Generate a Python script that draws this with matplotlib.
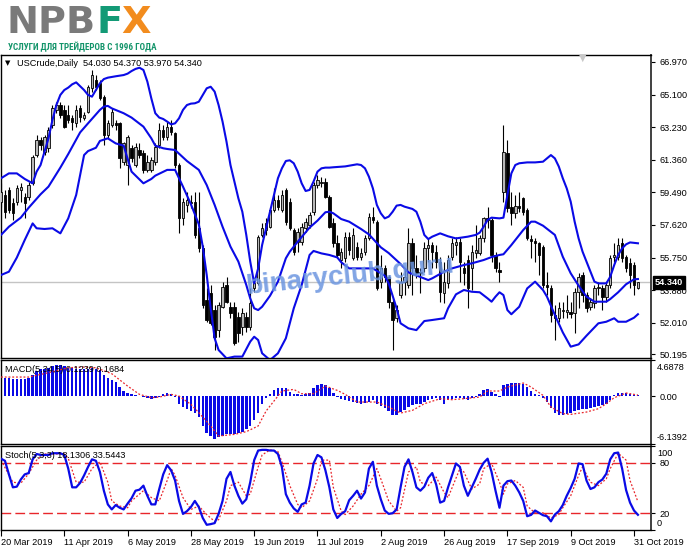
import numpy as np
import matplotlib
matplotlib.use("Agg")
import matplotlib.pyplot as plt
from matplotlib import font_manager as fm

plt.rcParams['font.family'] = ['Liberation Sans', 'DejaVu Sans']

# ---------------- data ----------------
bar_index = list(range(-1, 161))

opens = [58.96, 59.34, 59.63, 58.86, 58.96, 59.63, 59.24, 59.24, 60.01, 61.63,
         62.50, 61.83, 62.02, 63.35, 64.22, 64.50, 64.22, 63.93, 63.74, 63.45,
         64.31, 63.74, 64.12, 65.46, 65.94, 65.75, 64.98, 62.78, 63.35, 63.45,
         63.45, 61.25, 61.06, 62.02, 61.06, 61.92, 61.73, 60.78, 60.78, 61.25,
         62.21, 63.07, 62.69, 63.26, 62.88, 61.06, 58.00, 58.77, 58.96, 58.96,
         57.43, 56.28, 53.31, 53.70, 52.74, 51.59, 52.93, 54.18, 52.93, 52.93,
         52.36, 51.79, 52.36, 51.79, 53.98, 54.27, 57.05, 57.33, 57.52, 58.48,
         59.05, 58.48, 59.63, 58.96, 57.33, 56.66, 56.66, 57.43, 57.62, 58.38,
         59.91, 60.01, 60.11, 59.24, 57.71, 56.57, 55.61, 55.71, 56.95, 55.71,
         56.38, 55.80, 56.09, 56.85, 58.10, 57.81, 54.37, 55.13, 54.65, 53.22,
         52.27, 53.60, 54.37, 54.18, 56.57, 55.13, 54.85, 55.13, 56.28, 56.47,
         56.09, 55.52, 53.70, 54.27, 55.80, 56.47, 56.66, 55.13, 55.61, 55.13,
         55.99, 55.99, 56.85, 58.00, 57.91, 55.90, 55.04, 59.53, 61.73, 58.67,
         58.29, 58.73, 59.15, 58.48, 56.82, 56.70, 56.57, 56.38, 54.18, 53.98,
         52.46, 52.27, 52.69, 52.65, 52.65, 52.55, 53.79, 54.75, 53.60, 52.93,
         53.12, 53.98, 53.98, 53.51, 54.18, 55.80, 55.80, 56.57, 55.80, 55.42,
         55.32, 54.03]
highs = [60.01, 59.63, 59.82, 59.15, 59.91, 60.01, 59.44, 60.11, 61.63, 62.78,
         62.69, 62.78, 63.26, 64.50, 64.69, 64.69, 64.50, 64.50, 63.93, 64.50,
         64.50, 64.12, 65.65, 66.51, 66.22, 65.94, 65.08, 63.64, 64.31, 63.64,
         63.55, 62.40, 62.78, 62.21, 62.30, 62.30, 61.92, 61.63, 61.54, 62.30,
         63.45, 63.35, 63.55, 63.64, 62.97, 61.16, 59.15, 59.53, 59.34, 59.53,
         59.53, 56.47, 53.98, 54.18, 53.03, 53.22, 54.37, 54.65, 53.22, 53.22,
         52.65, 52.84, 52.65, 53.98, 54.56, 57.05, 57.71, 58.00, 58.58, 59.72,
         59.34, 59.63, 59.72, 59.15, 57.43, 57.43, 57.71, 58.00, 58.38, 60.11,
         60.49, 60.39, 60.30, 59.34, 58.00, 57.05, 56.28, 57.24, 57.24, 57.43,
         56.66, 56.28, 57.05, 58.29, 58.67, 57.91, 55.90, 55.32, 54.75, 53.41,
         53.03, 54.94, 55.13, 57.43, 56.85, 55.90, 55.13, 56.66, 56.85, 56.66,
         56.47, 55.80, 55.52, 55.90, 56.85, 56.95, 56.85, 55.52, 55.90, 56.47,
         57.62, 57.05, 58.10, 58.67, 58.00, 56.09, 55.52, 63.35, 62.50, 59.53,
         59.34, 59.53, 59.24, 58.58, 57.05, 56.85, 56.66, 56.47, 54.94, 54.18,
         53.03, 53.22, 53.22, 53.60, 53.22, 53.98, 54.85, 54.94, 53.79, 53.41,
         54.18, 54.37, 54.18, 54.37, 55.90, 56.57, 56.85, 56.85, 55.90, 55.71,
         55.52, 54.37]
lows = [58.67, 58.00, 58.29, 57.91, 58.77, 58.96, 58.00, 59.05, 59.91, 61.54,
        61.92, 61.63, 61.83, 63.16, 64.03, 63.74, 63.16, 63.45, 63.07, 63.26,
        63.55, 63.64, 64.03, 65.27, 65.36, 64.79, 62.21, 62.59, 63.26, 63.07,
        60.87, 61.06, 59.91, 61.25, 60.97, 61.44, 60.58, 60.68, 60.68, 61.06,
        62.02, 62.50, 62.50, 62.78, 60.87, 57.14, 57.62, 58.38, 58.58, 56.85,
        56.09, 52.84, 52.07, 51.88, 50.45, 51.21, 52.84, 53.12, 52.27, 50.74,
        50.93, 51.31, 51.50, 51.59, 53.79, 54.18, 56.95, 57.05, 57.43, 58.38,
        58.48, 58.38, 57.62, 57.33, 55.90, 56.09, 56.47, 57.24, 57.43, 58.19,
        59.72, 59.82, 59.15, 57.43, 56.38, 55.71, 55.13, 55.52, 55.90, 55.61,
        55.61, 55.61, 55.90, 56.76, 57.71, 53.89, 53.98, 54.37, 52.84, 50.45,
        52.07, 53.41, 53.60, 53.98, 53.60, 54.56, 53.70, 54.94, 55.52, 55.13,
        55.13, 53.22, 53.12, 53.98, 55.61, 55.90, 54.37, 54.18, 52.84, 53.89,
        55.71, 55.90, 56.66, 57.43, 55.52, 54.94, 54.37, 58.96, 58.38, 57.62,
        58.00, 58.38, 58.19, 56.76, 55.71, 55.52, 54.75, 53.98, 53.60, 52.07,
        51.02, 52.07, 52.27, 52.27, 52.27, 51.40, 52.84, 53.22, 52.65, 52.74,
        52.84, 53.60, 52.74, 53.22, 53.98, 55.52, 55.61, 55.52, 54.94, 53.98,
        53.60, 53.97]
closes = [59.53, 58.38, 58.48, 58.29, 59.72, 59.82, 58.86, 59.91, 61.54, 62.50,
          62.21, 62.69, 63.07, 64.31, 64.50, 63.93, 63.26, 63.64, 63.55, 64.22,
          63.83, 63.93, 65.55, 66.22, 65.55, 64.88, 62.78, 63.45, 64.12, 63.35,
          61.44, 62.30, 62.69, 61.44, 62.11, 61.63, 60.78, 61.25, 61.35, 62.11,
          63.07, 62.69, 63.26, 62.97, 61.06, 58.00, 58.96, 59.05, 58.86, 57.05,
          56.28, 53.03, 52.17, 51.98, 51.21, 53.03, 54.08, 53.22, 52.55, 50.83,
          51.40, 52.55, 51.79, 53.12, 54.27, 56.95, 57.43, 57.71, 58.48, 59.05,
          58.67, 59.34, 57.81, 57.43, 56.09, 57.24, 57.52, 57.81, 58.19, 59.91,
          60.20, 60.11, 59.24, 57.52, 56.57, 55.90, 56.09, 56.95, 56.19, 57.05,
          55.80, 55.99, 56.85, 58.10, 57.91, 53.98, 55.13, 54.65, 53.22, 52.17,
          52.74, 54.37, 54.65, 56.57, 55.13, 54.85, 54.94, 56.28, 56.47, 56.09,
          55.52, 53.79, 54.37, 55.61, 56.57, 56.66, 55.52, 54.85, 53.98, 56.09,
          56.19, 56.85, 58.00, 57.91, 55.90, 55.13, 54.94, 61.83, 58.58, 58.29,
          58.73, 58.61, 58.38, 56.85, 56.70, 56.57, 55.90, 54.18, 54.08, 52.46,
          52.27, 52.84, 52.74, 52.74, 52.50, 53.79, 54.65, 53.60, 52.88, 53.22,
          53.98, 54.08, 53.51, 54.18, 55.71, 55.90, 56.47, 55.71, 55.13, 54.75,
          54.18, 54.34]

# Bollinger Bands (20, 2)
bb_upper_bars = [-1, 1, 3, 5, 7, 8, 9, 10, 11, 12, 13, 14, 15, 16, 17, 18, 20, 21, 22, 23,
                 24, 25, 26, 28, 30, 31, 32, 33, 34, 35, 36, 37, 38, 39, 40, 41, 42, 43, 44, 45,
                 46, 47, 48, 49, 50, 51, 52, 53, 54, 55, 56, 57, 58, 59, 60, 61, 62, 63, 64, 65,
                 66, 67, 68, 69, 70, 71, 72, 73, 74, 75, 76, 77, 78, 79, 80, 81, 82, 83, 86, 89,
                 90, 91, 92, 93, 94, 95, 96, 97, 98, 99, 100, 101, 103, 104, 105, 106, 107, 108, 110, 112,
                 114, 117, 119, 120, 121, 122, 123, 125, 126, 127, 128, 129, 130, 132, 134, 136, 137, 138, 139, 140,
                 141, 142, 143, 144, 145, 146, 147, 148, 149, 150, 152, 153, 154, 155, 156, 157, 158, 160]
bb_upper = [60.30, 60.58, 60.58, 60.26, 60.01, 60.68, 61.06, 61.83, 62.59, 63.64,
            64.50, 65.08, 65.36, 65.50, 65.69, 65.80, 65.36, 65.08, 64.98, 65.36,
            65.75, 65.99, 66.07, 66.15, 66.22, 66.30, 66.45, 66.57, 66.64, 66.51,
            65.84, 64.88, 64.03, 63.78, 63.70, 63.55, 63.39, 63.45, 63.74, 64.22,
            64.50, 64.58, 64.60, 64.69, 65.08, 65.46, 65.55, 65.27, 64.50, 63.55,
            62.40, 61.06, 60.11, 59.15, 58.38, 57.05, 55.52, 54.27, 55.13, 56.47,
            57.43, 58.38, 59.34, 60.30, 60.87, 61.29, 61.33, 61.16, 60.68, 60.01,
            59.57, 59.63, 60.11, 60.68, 60.87, 60.91, 60.91, 60.93, 60.98, 61.10,
            61.06, 60.87, 60.39, 59.72, 58.77, 58.29, 58.00, 58.10, 58.38, 58.73,
            58.77, 58.67, 58.54, 58.38, 57.81, 57.05, 56.81, 56.95, 57.14, 56.97,
            56.85, 56.95, 57.05, 57.18, 57.52, 57.91, 58.04, 58.00, 58.04, 59.34,
            60.58, 61.06, 61.16, 61.21, 61.21, 61.25, 61.44, 61.63, 61.44, 60.97,
            60.30, 59.72, 58.96, 57.81, 56.85, 56.09, 55.52, 54.94, 54.37, 54.27,
            54.27, 54.65, 55.32, 55.90, 56.28, 56.51, 56.62, 56.57]
bb_mid_bars = [-1, 1, 4, 6, 9, 11, 14, 16, 19, 21, 24, 25, 26, 27, 30, 32, 35, 37, 38, 40,
               41, 43, 46, 49, 51, 53, 55, 57, 59, 61, 62, 63, 64, 65, 67, 69, 71, 72, 74, 77,
               79, 81, 82, 83, 85, 87, 90, 92, 95, 97, 100, 102, 105, 107, 108, 111, 113, 116, 118, 121,
               123, 125, 126, 128, 131, 133, 134, 136, 139, 141, 143, 145, 147, 149, 152, 153, 155, 157, 159, 160]
bb_mid = [57.05, 57.52, 58.04, 58.61, 59.38, 59.82, 60.91, 61.69, 62.93, 63.45,
          64.22, 64.41, 64.45, 64.31, 64.03, 63.78, 63.26, 62.59, 62.17, 62.02,
          61.98, 61.92, 61.29, 60.78, 59.91, 58.77, 57.52, 56.38, 55.52, 54.18,
          53.41, 52.84, 52.74, 52.93, 53.56, 54.37, 55.71, 56.09, 56.66, 57.47,
          57.87, 58.35, 58.38, 58.29, 57.96, 57.81, 57.39, 57.08, 56.34, 56.01,
          55.38, 54.90, 54.64, 54.46, 54.56, 54.94, 55.13, 55.32, 55.42, 55.61,
          55.78, 55.90, 55.94, 56.47, 57.33, 57.81, 57.81, 57.58, 57.05, 55.80,
          54.85, 54.14, 53.51, 53.22, 53.22, 53.37, 53.76, 54.22, 54.50, 54.52]
bb_low_bars = [-1, 1, 3, 5, 7, 8, 10, 12, 14, 16, 18, 20, 21, 23, 24, 26, 28, 30, 32, 35,
               37, 38, 41, 43, 45, 47, 49, 50, 51, 52, 53, 54, 56, 58, 60, 62, 63, 64, 65, 67,
               69, 71, 73, 75, 77, 78, 80, 82, 84, 85, 87, 91, 93, 96, 97, 99, 100, 102, 104, 106,
               108, 111, 112, 114, 116, 118, 120, 122, 123, 124, 125, 126, 127, 128, 130, 132, 134, 136, 137, 139,
               141, 143, 145, 147, 150, 152, 154, 155, 157, 159, 160]
bb_low = [54.75, 54.94, 55.75, 56.76, 57.71, 57.43, 57.39, 57.43, 57.14, 58.00,
          59.34, 61.63, 61.86, 62.05, 62.44, 62.59, 62.30, 62.17, 60.68, 60.01,
          60.26, 60.45, 60.78, 60.78, 59.82, 58.81, 57.66, 56.38, 54.75, 52.84,
          51.12, 50.45, 49.97, 50.07, 50.07, 50.93, 51.21, 51.02, 50.26, 49.87,
          50.26, 51.12, 52.84, 54.18, 55.90, 56.13, 55.99, 55.90, 55.76, 55.48,
          55.13, 55.13, 55.13, 54.71, 54.27, 52.84, 51.98, 51.69, 51.59, 52.11,
          52.17, 52.27, 52.84, 53.64, 53.89, 53.79, 53.76, 53.41, 53.22, 53.51,
          53.76, 53.60, 52.74, 52.50, 52.93, 53.98, 54.37, 53.89, 53.51, 52.46,
          51.46, 50.64, 50.77, 51.27, 51.98, 52.07, 52.27, 52.07, 52.07, 52.30,
          52.50]

# MACD (5,34,5)
macd_hist = [2.62, 2.41, 2.32, 2.19, 2.19, 2.19, 2.19, 2.32, 2.75, 3.26,
             3.48, 3.48, 3.69, 3.87, 4.00, 4.04, 3.87, 3.69, 3.61, 3.52,
             3.48, 3.48, 3.52, 3.61, 3.52, 3.35, 2.75, 2.41, 2.15, 1.80,
             1.20, 0.69, 0.47, 0.26, 0.17, 0.04, -0.09, -0.26, -0.39, -0.26,
             -0.04, 0.26, 0.47, 0.34, -0.09, -1.03, -1.37, -1.68, -1.89, -2.10,
             -2.66, -3.82, -4.68, -5.11, -5.54, -5.24, -5.11, -4.90, -4.90, -4.90,
             -4.68, -4.55, -4.25, -3.82, -3.09, -2.10, -0.95, -0.17, 0.34, 0.77,
             1.12, 1.12, 1.12, 0.60, 0.34, 0.26, 0.17, 0.26, 0.47, 1.12,
             1.46, 1.63, 1.46, 1.03, 0.47, -0.04, -0.39, -0.52, -0.64, -0.73,
             -0.86, -0.95, -0.86, -0.73, -0.52, -0.95, -1.29, -1.46, -1.89, -2.36,
             -2.45, -2.02, -1.72, -1.37, -1.16, -1.03, -0.95, -0.73, -0.52, -0.30,
             -0.17, -0.43, -0.95, -0.52, -0.30, -0.17, -0.17, -0.30, -0.43, -0.21,
             -0.09, 0.34, 0.86, 0.99, 0.56, 0.26, -0.09, 1.42, 1.63, 1.72,
             1.72, 1.72, 1.63, 1.20, 0.69, 0.34, 0.13, -0.17, -0.73, -1.46,
             -2.15, -2.36, -2.36, -2.32, -2.15, -1.89, -1.72, -1.59, -1.59, -1.50,
             -1.37, -1.29, -1.16, -0.95, -0.43, 0.13, 0.43, 0.43, 0.43, 0.34,
             0.17, 0.12]
macd_sig_bars = [-1, 6, 11, 16, 20, 23, 27, 31, 34, 37, 39, 42, 44, 47, 49, 52, 54, 58, 61, 64,
                 66, 68, 70, 73, 75, 78, 81, 84, 86, 89, 94, 97, 100, 103, 106, 110, 113, 116, 120, 122,
                 125, 127, 131, 133, 136, 138, 141, 143, 147, 150, 152, 154, 157, 160]
macd_signal = [2.49, 2.49, 3.05, 3.69, 3.78, 3.69, 2.92, 1.33, 0.26, -0.17,
               -0.09, 0.26, 0.04, -1.03, -2.10, -3.82, -5.11, -4.90, -4.55, -3.82,
               -1.89, -0.60, 0.69, 0.90, 0.34, 0.34, 1.33, 0.77, 0.26, -0.73,
               -0.73, -1.37, -2.15, -1.80, -0.95, -0.30, -0.43, -0.30, -0.09, 0.69,
               0.69, 1.20, 1.72, 1.20, 0.13, -1.37, -2.23, -2.32, -2.02, -1.59,
               -0.95, -0.17, 0.43, 0.17]

# Stochastic (5,3,3)
stoch_k = [84.9, 82.4, 66.2, 50.8, 51.6, 60.1, 66.2, 67.8, 84.1, 90.5,
           89.3, 89.3, 89.3, 91.4, 91.4, 91.4, 89.3, 73.1, 50.8, 50.8,
           56.1, 65.0, 75.1, 84.1, 82.4, 69.1, 46.8, 30.5, 24.5, 29.7,
           26.5, 24.5, 31.4, 37.8, 46.8, 48.0, 52.8, 40.7, 30.5, 30.5,
           48.8, 66.2, 77.2, 71.1, 58.9, 34.6, 19.2, 22.4, 27.3, 34.6,
           27.3, 14.3, 6.2, 7.0, 8.2, 19.2, 34.6, 60.9, 69.1, 52.8,
           40.7, 31.4, 36.6, 56.9, 83.2, 94.6, 95.4, 95.4, 94.6, 94.6,
           90.5, 75.1, 42.7, 32.6, 25.7, 21.6, 30.5, 32.6, 52.8, 79.2,
           89.3, 86.5, 71.1, 50.8, 24.5, 14.3, 19.2, 22.4, 35.4, 40.7,
           46.8, 37.4, 44.7, 73.1, 81.2, 52.8, 36.6, 23.2, 19.2, 20.0,
           24.5, 50.8, 75.1, 84.1, 69.1, 50.8, 46.8, 51.6, 62.2, 67.8,
           54.1, 32.6, 34.6, 50.8, 65.0, 79.2, 75.1, 52.8, 40.7, 50.8,
           60.9, 71.9, 80.0, 84.9, 69.1, 46.8, 26.5, 52.8, 58.1, 58.9,
           52.8, 44.7, 34.6, 16.4, 18.0, 23.2, 20.4, 17.6, 16.4, 10.3,
           18.4, 22.4, 29.7, 40.7, 50.0, 60.9, 79.2, 78.4, 58.9, 48.8,
           50.8, 56.9, 60.1, 67.0, 84.1, 91.4, 92.2, 73.1, 47.6, 32.6,
           23.2, 18.1]
stoch_d_bars = [-1, 2, 4, 6, 8, 10, 15, 16, 18, 20, 22, 24, 26, 27, 29, 31, 32, 35, 37, 39,
                41, 42, 43, 45, 47, 49, 51, 53, 54, 56, 57, 59, 61, 62, 64, 65, 67, 69, 70, 72,
                74, 75, 77, 79, 80, 82, 83, 85,
                86, 88, 90, 92, 94, 95, 97, 99, 100, 102, 104, 105, 107, 109, 111, 112, 115, 116, 118, 120,
                121, 123, 125, 126, 127, 129, 131, 132, 134, 136, 138, 140, 141, 143, 145, 146, 148, 150, 152, 153,
                155, 157, 158, 160]
stoch_d = [83.2, 56.9, 55.7, 67.0, 83.2, 90.5, 90.5, 85.3, 56.9, 56.9,
           73.1, 81.2, 56.9, 34.6, 28.5, 26.5, 34.6, 46.8, 38.6, 34.6,
           58.9, 73.1, 65.0, 38.6, 24.5, 28.5, 18.4, 10.3, 12.3, 34.6,
           52.8, 56.9, 40.7, 42.7, 75.1, 89.3, 95.4, 93.4, 81.2, 52.8,
           30.5, 26.5, 34.6, 60.9, 83.2, 83.2, 50.8, 22.4,
           18.4, 28.5, 42.7, 52.8, 73.1, 60.9, 34.6, 22.4, 26.5, 69.1,
           75.1, 56.9, 52.8, 63.0, 44.7, 38.6, 73.1, 69.1, 48.8, 54.9,
           73.1, 79.2, 56.9, 42.7, 54.9, 58.9, 50.8, 28.5, 20.4, 20.4,
           14.3, 18.4, 26.5, 40.7, 65.0, 75.1, 56.9, 52.8, 60.9, 73.1,
           91.4, 83.2, 58.9, 33.5]

date_bars = [0, 16, 32, 48, 64, 80, 96, 112, 128, 144, 160]
date_labels = ['20 Mar 2019', '11 Apr 2019', '6 May 2019', '28 May 2019', '19 Jun 2019',
               '11 Jul 2019', '2 Aug 2019', '26 Aug 2019', '17 Sep 2019', '9 Oct 2019',
               '31 Oct 2019']
price_ticks = [66.970, 65.100, 63.230, 61.360, 59.490, 57.620, 55.750, 53.880, 52.010, 50.195]
price_tick_labels = ['66.970', '65.100', '63.230', '61.360', '59.490', '57.620',
                     '55.750', '53.880', '52.010', '50.195']
last_price = 54.34

# ---------------- figure ----------------
W, H = 691, 549
fig = plt.figure(figsize=(W / 100, H / 100), dpi=100)
fig.patch.set_facecolor('white')


def px_rect(x0, y0, x1, y1):
    return [x0 / W, 1 - y1 / H, (x1 - x0) / W, (y1 - y0) / H]


ax1 = fig.add_axes(px_rect(1, 55, 651, 358))
ax2 = fig.add_axes(px_rect(1, 360, 651, 444), sharex=ax1)
ax3 = fig.add_axes(px_rect(1, 446, 651, 530), sharex=ax1)

BLUE = '#0a0ae6'
RED = '#e8262b'
LBL = 6.6

x = np.array(bar_index, dtype=float)
o = np.array(opens); h = np.array(highs); l = np.array(lows); c = np.array(closes)
up = c >= o
body_lo = np.minimum(o, c)
body_h = np.maximum(np.abs(c - o), 0.035)

# candles
ax1.vlines(x, l, h, color='black', lw=0.8, zorder=2)
ax1.bar(x[up], body_h[up], bottom=body_lo[up], width=0.62, color='#b8b8b8',
        edgecolor='black', linewidth=0.6, zorder=3)
ax1.bar(x[~up], body_h[~up], bottom=body_lo[~up], width=0.62, color='black',
        edgecolor='black', linewidth=0.6, zorder=3)

# bid line
ax1.axhline(last_price, color='#c4c4c4', lw=1.0, zorder=1)

# bollinger bands
for bx, by in ((bb_upper_bars, bb_upper), (bb_mid_bars, bb_mid), (bb_low_bars, bb_low)):
    ax1.plot(bx, by, color=BLUE, lw=1.5, zorder=4, solid_joinstyle='round')

ax1.set_ylim(49.99, 67.37)
ax1.set_xlim(-1.0, 163.3)
ax1.set_yticks(price_ticks)
ax1.set_yticklabels(price_tick_labels)

# watermark
ax1.text(0.537, 0.27, 'binaryclub.guru', transform=ax1.transAxes, fontsize=20,
         fontweight='bold', color='#6b95e0', alpha=0.85, rotation=6,
         ha='center', va='center', zorder=6, family=['Liberation Sans', 'DejaVu Sans'])

# price box
ax1.annotate('54.340', xy=(1, last_price), xycoords=('axes fraction', 'data'),
             xytext=(4, 0), textcoords='offset pixels', va='center', ha='left',
             color='white', fontsize=LBL, fontweight='bold', zorder=10,
             bbox=dict(boxstyle='square,pad=0.22', fc='black', ec='black'),
             annotation_clip=False)

# MACD
ax2.bar(x, macd_hist, width=0.62, color=BLUE, zorder=2)
ax2.plot(macd_sig_bars, macd_signal, color=RED, lw=0.9, ls=(0, (1.5, 1.5)), zorder=3)
ax2.set_ylim(-6.1392, 4.6878)
ax2.set_yticks([4.6878, 0.0, -6.1392])
ax2.set_yticklabels(['', '0.00', ''])
ax2.annotate('4.6878', xy=(1, 4.6878), xycoords=('axes fraction', 'data'),
             xytext=(6, -8), textcoords='offset pixels', va='center', ha='left',
             fontsize=LBL, annotation_clip=False)
ax2.annotate('-6.1392', xy=(1, -6.1392), xycoords=('axes fraction', 'data'),
             xytext=(6, 7), textcoords='offset pixels', va='center', ha='left',
             fontsize=LBL, annotation_clip=False)

# Stochastic
ax3.axhline(80, color=RED, lw=1.0, ls=(0, (7, 3)), zorder=1)
ax3.axhline(20, color=RED, lw=1.0, ls=(0, (7, 3)), zorder=1)
ax3.plot(stoch_d_bars, stoch_d, color=RED, lw=0.9, ls=(0, (1.5, 1.5)), zorder=2)
ax3.plot(bar_index, stoch_k, color=BLUE, lw=1.6, zorder=3, solid_joinstyle='round')
ax3.set_ylim(0, 100)
ax3.set_yticks([100, 80, 20, 0])
ax3.set_yticklabels(['', '80', '20', ''])
ax3.annotate('100', xy=(1, 100), xycoords=('axes fraction', 'data'),
             xytext=(6, -7), textcoords='offset pixels', va='center', ha='left',
             fontsize=LBL, annotation_clip=False)
ax3.annotate('0', xy=(1, 0), xycoords=('axes fraction', 'data'),
             xytext=(6, 6), textcoords='offset pixels', va='center', ha='left',
             fontsize=LBL, annotation_clip=False)

# axes styling
for ax in (ax1, ax2, ax3):
    ax.set_facecolor('white')
    ax.yaxis.tick_right()
    ax.tick_params(axis='y', direction='out', length=3, width=0.8, pad=3,
                   labelsize=LBL, colors='black')
    ax.tick_params(axis='x', bottom=False, labelbottom=False, top=False)
    for s in ax.spines.values():
        s.set_linewidth(1.0)
        s.set_color('black')
    ax.spines['right'].set_color('#404040')
    ax.spines['right'].set_linewidth(1.4)

ax3.set_xticks([b - 1.0 for b in date_bars])
ax3.set_xticklabels(date_labels, ha='left')
ax3.tick_params(axis='x', bottom=True, labelbottom=True, direction='out',
                length=4, width=0.8, pad=2, labelsize=LBL)

# panel labels
fig.text(5 / W, 1 - 63 / H, '\u25bc', fontsize=5, va='center', ha='left',
         family='DejaVu Sans', color='black')
fig.text(17 / W, 1 - 63 / H, 'USCrude,Daily  54.030 54.370 53.970 54.340',
         fontsize=LBL, va='center', ha='left', color='black')
fig.text(5 / W, 1 - 369 / H, 'MACD(5,34,5) 0.1239 0.1684', fontsize=LBL,
         va='center', ha='left', color='black', zorder=1)
fig.text(5 / W, 1 - 456 / H, 'Stoch(5,3,3) 18.1306 33.5443', fontsize=LBL,
         va='center', ha='left', color='black')
fig.text(583 / W, 1 - 58 / H, '\u25bc', fontsize=7, va='center', ha='center',
         family='DejaVu Sans', color='#c8c8c8')

# logo
fig.text(7 / W, 1 - 23 / H, 'NPB', fontsize=27.5, fontweight='bold', color='#7a7a7a',
         va='center', ha='left', family='DejaVu Sans')
fig.text(97 / W, 1 - 23 / H, 'F', fontsize=27.5, fontweight='bold', color='#139a76',
         va='center', ha='left', family='DejaVu Sans')
fig.text(121 / W, 1 - 23 / H, 'X', fontsize=27.5, fontweight='bold', color='#f28c1e',
         va='center', ha='left', family='DejaVu Sans')

# subtitle: prefer a narrow font, then fit it to the logo width
sub_family = ['Liberation Sans', 'DejaVu Sans']
for fam in ['Liberation Sans Narrow', 'Roboto Condensed', 'Open Sans Condensed',
            'DejaVu Sans Condensed']:
    try:
        fm.findfont(fm.FontProperties(family=fam, weight='bold'), fallback_to_default=False)
        sub_family = [fam, 'DejaVu Sans']
        break
    except Exception:
        pass
sub = fig.text(8 / W, 1 - 47 / H, 'УСЛУГИ ДЛЯ ТРЕЙДЕРОВ С 1996 ГОДА', fontsize=7,
               fontweight='bold', color='#13946a', va='center', ha='left',
               family=sub_family)
renderer = fig.canvas.get_renderer()
sub_w = sub.get_window_extent(renderer).width
if sub_w > 0:
    sub.set_fontsize(7 * 150.0 / sub_w)

fig.savefig('out.png', dpi=100, facecolor='white')
